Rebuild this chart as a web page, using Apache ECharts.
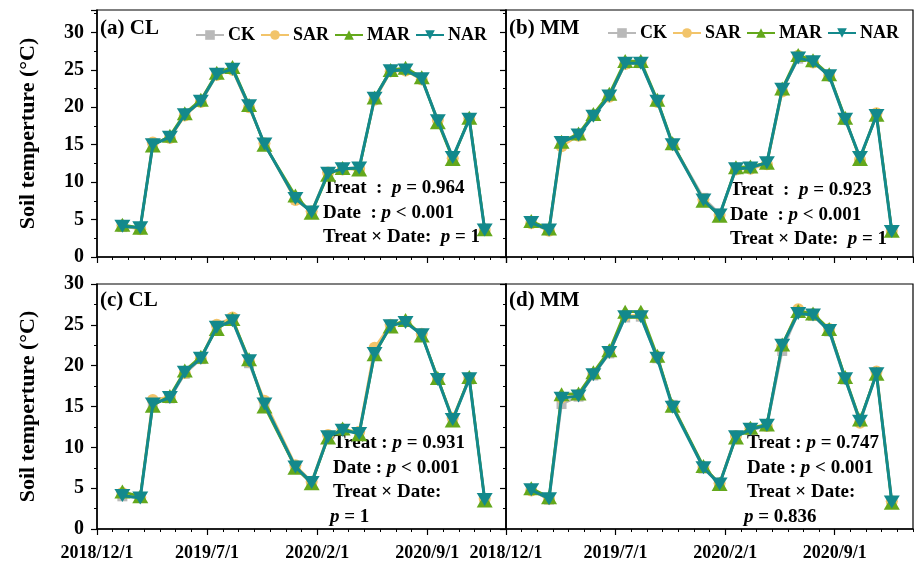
<!DOCTYPE html>
<html>
<head>
<meta charset="utf-8">
<script src="https://cdn.jsdelivr.net/npm/echarts@6/dist/echarts.min.js"></script>
<style>
html, body { margin: 0; padding: 0; background: #fff; }
#main { width: 914px; height: 565px; }
</style>
</head>
<body>
<div id="main"></div>
<script>
// sampling dates (same for all four panels)
const sampleDates = ['2019/1/20', '2019/2/22', '2019/3/18', '2019/4/20', '2019/5/19', '2019/6/19',
    '2019/7/20', '2019/8/20', '2019/9/21', '2019/10/21', '2019/12/20', '2020/1/21', '2020/2/21',
    '2020/3/20', '2020/4/21', '2020/5/21', '2020/6/21', '2020/7/20', '2020/8/21', '2020/9/21',
    '2020/10/20', '2020/11/21', '2020/12/21'];
const treatments = ['CK', 'SAR', 'MAR', 'NAR'];
const xTickLabels = ['2018/12/1', '2019/7/1', '2020/2/1', '2020/9/1'];
const panelLabels = ['(a) CL', '(b) MM', '(c) CL', '(d) MM'];

// (a) CL
const ckA  = [4.0, 3.8, 15.1, 16.0, 19.0, 20.9, 24.5, 25.2, 20.2, 15.0, 7.9, 6.0, 11.2, 11.8, 12.0, 21.1, 24.9, 25.1, 23.9, 18.2, 13.3, 18.4, 3.8];
const sarA = [4.2, 3.7, 15.3, 15.9, 18.9, 20.7, 24.3, 25.0, 20.0, 15.2, 7.6, 6.1, 11.3, 11.7, 11.8, 21.0, 24.8, 24.9, 23.7, 18.3, 13.2, 18.5, 3.6];
const marA = [4.3, 3.9, 14.9, 16.2, 19.2, 21.0, 24.6, 25.4, 20.3, 15.0, 8.2, 5.9, 11.0, 11.9, 11.7, 21.3, 25.0, 25.3, 24.0, 18.0, 13.1, 18.6, 3.7];
const narA = [4.1, 3.9, 15.0, 16.0, 19.0, 20.8, 24.4, 25.1, 20.2, 15.1, 7.8, 6.0, 11.2, 11.8, 11.9, 21.2, 24.9, 25.0, 23.8, 18.2, 13.3, 18.4, 3.6];
// (b) MM
const ckB  = [4.6, 3.6, 15.2, 16.3, 19.0, 21.6, 25.8, 25.9, 20.8, 15.1, 7.9, 5.8, 11.7, 11.9, 12.5, 22.3, 26.5, 26.1, 24.3, 18.3, 13.3, 18.8, 3.6];
const sarB = [4.5, 3.5, 14.8, 16.2, 18.9, 21.4, 25.8, 26.0, 20.7, 15.0, 7.7, 5.6, 11.7, 11.8, 12.4, 22.1, 26.9, 26.0, 24.2, 18.5, 13.0, 19.2, 3.5];
const marB = [4.8, 3.8, 15.4, 16.5, 19.1, 21.8, 26.2, 26.2, 21.0, 15.2, 7.5, 5.5, 12.0, 12.1, 12.6, 22.5, 27.0, 26.3, 24.4, 18.6, 13.1, 19.0, 3.5];
const narB = [4.6, 3.6, 15.3, 16.3, 18.8, 21.5, 25.9, 25.9, 20.8, 15.0, 7.6, 5.6, 11.8, 11.9, 12.6, 22.4, 26.6, 26.1, 24.2, 18.4, 13.3, 18.9, 3.4];
// (c) CL
const ckC  = [4.0, 3.8, 15.4, 16.0, 19.0, 20.8, 24.8, 25.6, 20.3, 15.4, 7.4, 5.6, 11.3, 12.1, 11.8, 21.6, 25.0, 25.4, 23.8, 18.3, 13.5, 18.3, 3.6];
const sarC = [4.4, 3.9, 15.8, 16.2, 19.1, 20.9, 25.0, 25.9, 20.5, 15.7, 7.8, 5.8, 11.5, 12.2, 11.9, 22.2, 25.0, 25.4, 23.9, 18.4, 13.6, 18.5, 3.7];
const marC = [4.6, 4.0, 15.1, 16.3, 19.4, 21.1, 24.5, 25.7, 20.8, 15.0, 7.5, 5.6, 11.2, 12.3, 11.6, 21.4, 24.8, 25.6, 23.7, 18.5, 13.3, 18.6, 3.5];
const narC = [4.1, 3.8, 15.3, 16.1, 19.2, 20.9, 24.7, 25.5, 20.6, 15.3, 7.6, 5.7, 11.3, 12.1, 11.7, 21.5, 24.9, 25.3, 23.8, 18.3, 13.4, 18.4, 3.6];
// (d) MM
const ckD  = [4.8, 3.6, 15.3, 16.2, 18.8, 21.5, 25.9, 26.0, 20.9, 15.2, 7.4, 5.6, 11.3, 12.1, 12.6, 21.8, 26.5, 26.1, 24.2, 18.3, 13.3, 18.9, 3.4];
const sarD = [4.7, 3.7, 16.1, 16.4, 19.0, 21.7, 26.1, 26.2, 21.1, 15.0, 7.6, 5.6, 11.4, 12.3, 12.6, 22.4, 26.9, 26.3, 24.5, 18.5, 13.0, 19.3, 3.4];
const marD = [5.0, 3.9, 16.5, 16.6, 19.2, 21.9, 26.6, 26.6, 21.2, 15.1, 7.7, 5.5, 11.2, 12.4, 12.8, 22.6, 26.7, 26.4, 24.5, 18.6, 13.4, 19.0, 3.2];
const narD = [4.8, 3.7, 16.0, 16.3, 18.9, 21.6, 26.0, 26.0, 20.9, 14.9, 7.5, 5.5, 11.3, 12.2, 12.7, 22.5, 26.4, 26.2, 24.3, 18.4, 13.2, 19.0, 3.3];

// stats text per panel
const statsA = [['Treat  :  ', ' = 0.964'], ['Date  : ', ' < 0.001'], ['Treat × Date:  ', ' = 1']];
const statsB = [['Treat  :  ', ' = 0.923'], ['Date  : ', ' < 0.001'], ['Treat × Date:  ', ' = 1']];
const statsC = [['Treat : ', ' = 0.931'], ['Date : ', ' < 0.001'], ['Treat × Date:', null], ['', ' = 1']];
const statsD = [['Treat : ', ' = 0.747'], ['Date : ', ' < 0.001'], ['Treat × Date:', null], ['', ' = 0.836']];

const panelData = [
    [ckA, sarA, marA, narA],
    [ckB, sarB, marB, narB],
    [ckC, sarC, marC, narC],
    [ckD, sarD, marD, narD]
];
const panelStats = [statsA, statsB, statsC, statsD];

const FONT = 'Liberation Serif';
const colors = ['#b9b9b9', '#f2c46a', '#64a81c', '#13898c'];
const symbols = ['rect', 'circle', 'triangle', 'path://M0,0 L10,0 L5,8.7 Z'];
const symbolSizes = [10, 12, [16, 14], [16, 13]];

// months since 2018/12/1
function monthIndex(str) {
    let [y, m, d] = str.split('/').map(Number);
    let days = new Date(y, m, 0).getDate();
    return (y - 2018) * 12 + (m - 12) + (d - 1) / days;
}

let grids = [
    { left: 97, top: 10, width: 409, height: 247 },
    { left: 506, top: 10, width: 407, height: 247 },
    { left: 97, top: 284, width: 409, height: 245 },
    { left: 506, top: 284, width: 407, height: 245 }
].map(g => Object.assign(g, { show: true, borderColor: '#000', borderWidth: 1.2 }));

let xAxes = [];
let yAxes = [];
let series = [];
let graphics = [];

for (let p = 0; p < 4; p++) {
    let top = p < 2;
    let left = p % 2 === 0;
    xAxes.push({
        gridIndex: p, type: 'value', position: 'bottom', min: 0, max: 26, interval: 7,
        axisLine: { onZero: false, lineStyle: { color: '#000', width: 1.5 } },
        axisTick: { length: 6, lineStyle: { color: '#000', width: 1.2 } },
        axisLabel: {
            show: !top, showMaxLabel: false, margin: 15,
            fontFamily: FONT, fontSize: 18, fontWeight: 'bold', color: '#000',
            formatter: v => (v % 7 === 0 && v / 7 < xTickLabels.length) ? xTickLabels[v / 7] : ''
        },
        splitLine: { show: false }
    });
    xAxes.push({
        gridIndex: p, type: 'value', position: 'bottom', min: 0, max: 26, interval: 1,
        axisLine: { show: false, onZero: false },
        axisTick: { length: 3, lineStyle: { color: '#000', width: 1 } },
        axisLabel: { show: false },
        splitLine: { show: false }
    });
    yAxes.push({
        gridIndex: p, type: 'value', position: 'left', min: 0, max: top ? 33 : 30, interval: 5,
        axisLine: { show: true, onZero: false, lineStyle: { color: '#000', width: 1.5 } },
        axisTick: { show: true, length: 6, lineStyle: { color: '#000', width: 1.2 } },
        axisLabel: {
            show: left, margin: 13,
            fontFamily: FONT, fontSize: 20, fontWeight: 'bold', color: '#000',
            formatter: v => v % 5 === 0 ? String(v) : ''
        },
        splitLine: { show: false },
        name: left ? 'Soil temperture (°C)' : '',
        nameLocation: 'middle', nameGap: 58,
        nameTextStyle: { fontFamily: FONT, fontSize: 22, fontWeight: 'bold', color: '#000' }
    });
    yAxes.push({
        gridIndex: p, type: 'value', position: 'left', min: 0, max: top ? 33 : 30, interval: 2.5,
        axisLine: { show: false, onZero: false },
        axisTick: { show: true, length: 3, lineStyle: { color: '#000', width: 1 } },
        axisLabel: { show: false },
        splitLine: { show: false }
    });

    panelData[p].forEach((vals, t) => {
        series.push({
            name: treatments[t],
            type: 'line',
            xAxisIndex: 2 * p,
            yAxisIndex: 2 * p,
            data: sampleDates.map((d, k) => [monthIndex(d), vals[k]]),
            symbol: symbols[t],
            symbolSize: symbolSizes[t],
            showAllSymbol: true,
            itemStyle: { color: colors[t], opacity: 1 },
            lineStyle: { color: colors[t], width: t === 3 ? 3 : 2.5 },
            z: 2 + t
        });
    });

    // panel label
    graphics.push({
        type: 'text', x: left ? 100 : 509, y: top ? 29 : 301,
        style: { text: panelLabels[p], font: `bold 21px "${FONT}"`, fill: '#000', verticalAlign: 'middle' }
    });

    // stats
    let sx = [323, 730, 333, 747][p];
    let sy = [188, 190, 443, 443][p];
    panelStats[p].forEach((line, i) => {
        let txt = '{b|' + line[0] + '}';
        if (line[1] !== null) txt += '{i|p}{b|' + line[1] + '}';
        graphics.push({
            type: 'text', x: sx - (line[0] === '' ? 3 : 0), y: sy + i * 24.6,
            style: {
                text: txt, verticalAlign: 'middle',
                rich: {
                    b: { fontFamily: FONT, fontSize: 19, fontWeight: 'bold', fill: '#000', color: '#000' },
                    i: { fontFamily: FONT, fontSize: 19, fontWeight: 'bold', fontStyle: 'italic', fill: '#000', color: '#000' }
                }
            }
        });
    });
}

const legendBase = {
    data: treatments, orient: 'horizontal', itemWidth: 28, itemHeight: 12, itemGap: 5,
    textStyle: { fontFamily: FONT, fontSize: 18, fontWeight: 'bold', color: '#000', padding: [0, 0, 0, -1] },
    selectedMode: false, padding: 0
};

let chart = echarts.init(document.getElementById('main'));
chart.setOption({
    animation: false,
    backgroundColor: '#fff',
    grid: grids,
    xAxis: xAxes,
    yAxis: yAxes,
    legend: [
        Object.assign({ left: 195, top: 26 }, legendBase),
        Object.assign({ left: 607, top: 24 }, legendBase)
    ],
    series: series,
    graphic: graphics
});
</script>
</body>
</html>
